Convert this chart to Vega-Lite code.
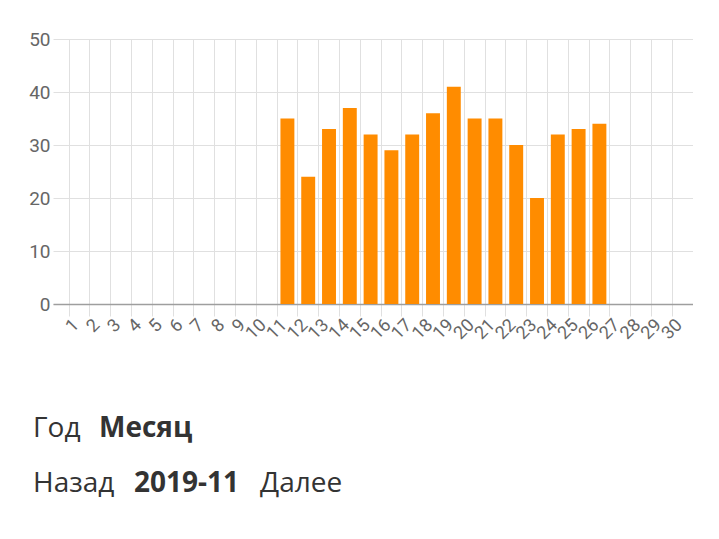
{
  "$schema": "https://vega.github.io/schema/vega-lite/v6.json",
  "padding": {"left": 28, "top": 30, "right": 0, "bottom": 0},
  "background": "white",
  "config": {
    "view": {"stroke": null},
    "title": {"anchor": "start", "font": "Open Sans", "fontSize": 28, "color": "#333", "offset": 0, "fontWeight": "normal"}
  },
  "spacing": 72,
  "vconcat": [
    {
      "width": 640,
      "height": 265,
      "data": {"values": [
        {"day": 11, "visits": 35}, {"day": 12, "visits": 24}, {"day": 13, "visits": 33},
        {"day": 14, "visits": 37}, {"day": 15, "visits": 32}, {"day": 16, "visits": 29},
        {"day": 17, "visits": 32}, {"day": 18, "visits": 36}, {"day": 19, "visits": 41},
        {"day": 20, "visits": 35}, {"day": 21, "visits": 35}, {"day": 22, "visits": 30},
        {"day": 23, "visits": 20}, {"day": 24, "visits": 32}, {"day": 25, "visits": 33},
        {"day": 26, "visits": 34}
      ]},
      "mark": {"type": "bar", "color": "#ff8c00", "width": {"band": 0.67}},
      "encoding": {
        "x": {
          "field": "day", "type": "ordinal",
          "scale": {"domain": [1,2,3,4,5,6,7,8,9,10,11,12,13,14,15,16,17,18,19,20,21,22,23,24,25,26,27,28,29,30],
                    "paddingInner": 0, "paddingOuter": 0.385, "align": 1},
          "axis": {
            "title": null, "bandPosition": 0, "grid": true, "gridColor": "#e0e0e0",
            "labelAngle": -45, "labelAlign": "right", "labelBaseline": "middle",
            "labelFont": "Roboto", "labelFontSize": 18, "labelColor": "#666", "labelPadding": 6,
            "labelOffset": -3,
            "labelOverlap": false, "domainColor": "#9e9e9e", "domainWidth": 1.5,
            "tickColor": "#e0e0e0", "tickSize": 12
          }
        },
        "y": {
          "field": "visits", "type": "quantitative",
          "scale": {"domain": [0, 50]},
          "axis": {
            "title": null, "values": [0,10,20,30,40,50], "domain": false, "ticks": false,
            "labelPadding": 3, "labelFont": "Roboto", "labelFontSize": 19, "labelColor": "#666",
            "gridColor": "#e0e0e0"
          }
        }
      }
    },
    {
      "spacing": 22,
      "vconcat": [
        {
          "spacing": 18,
          "hconcat": [
            {"title": {"text": "Год", "dx": -20}, "width": 1, "height": 1, "data": {"values": []}, "mark": "point"},
            {"title": {"text": "Месяц", "fontWeight": "bold"}, "width": 1, "height": 1, "data": {"values": []}, "mark": "point"}
          ]
        },
        {
          "spacing": 19,
          "hconcat": [
            {"title": {"text": "Назад", "dx": -20}, "width": 1, "height": 1, "data": {"values": []}, "mark": "point"},
            {"title": {"text": "2019-11", "fontWeight": "bold"}, "width": 1, "height": 1, "data": {"values": []}, "mark": "point"},
            {"title": {"text": "Далее", "dx": 1}, "width": 1, "height": 1, "data": {"values": []}, "mark": "point"}
          ]
        }
      ]
    }
  ]
}
